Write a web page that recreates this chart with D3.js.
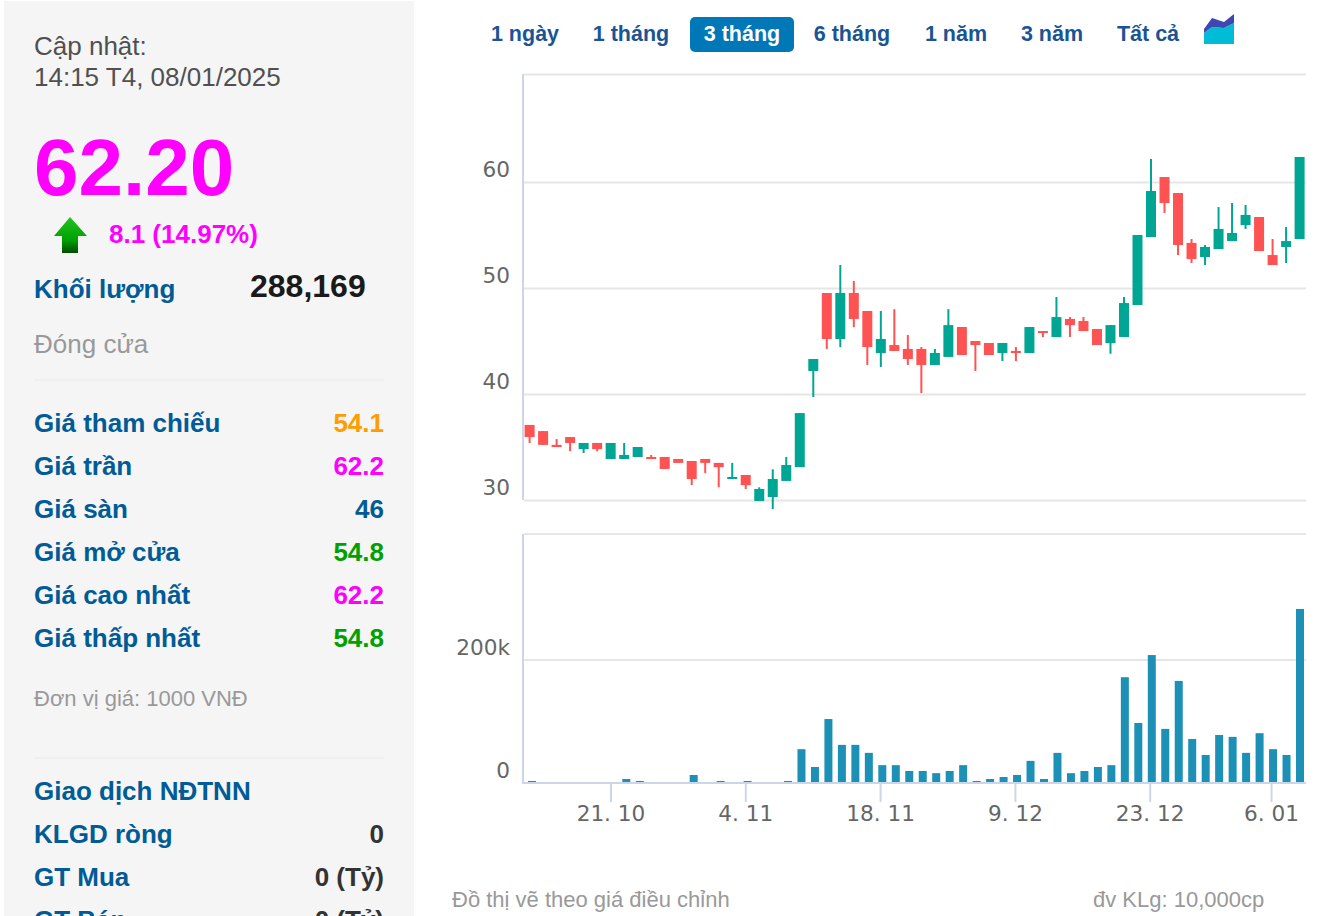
<!DOCTYPE html>
<html>
<head>
<meta charset="utf-8">
<script src="https://cdn.jsdelivr.net/npm/d3@7"></script>
<style>
  html, body { margin: 0; padding: 0; background: #fff; overflow: hidden; }
  svg { display: block; }
  text { font-family: "Liberation Sans", Arial, sans-serif; }
  .axis-label text { font-family: "DejaVu Sans", sans-serif; font-size: 21.6px; fill: #666; }
</style>
</head>
<body>
<div id="chart"></div>
<script>
// one entry per session, oldest first
const opens = [37.08, 36.5, 35.2, 35.94, 34.8, 35.38, 33.87, 33.87, 34.06, 34.06, 34.06, 33.87, 33.68, 33.87, 33.5, 31.98, 32.36, 29.9, 30.28, 31.8, 33.1, 42.17,
  49.53, 45.19, 49.53, 47.83, 43.87, 44.62, 44.25, 44.25, 42.74, 43.5, 46.32, 45, 44.81, 43.87, 44.06, 43.87, 45.94, 45.38,
  47.08, 46.89, 46.13, 44.8, 45.38, 48.4, 54.81, 60.47, 58.96, 54.25, 52.92, 53.68, 54.43, 55.94, 56.7, 53.11, 53.87, 54.62];
const closes = [35.94, 35.2, 35.0, 35.38, 35.38, 34.8, 35.38, 34.25, 35.0, 33.87, 32.93, 33.5, 31.98, 33.5, 33.1, 32.17, 31.4, 31.04, 31.98, 33.3, 38.2, 43.3,
  45.19, 49.53, 47.08, 44.43, 45.19, 44.06, 43.3, 42.74, 43.87, 46.5, 43.68, 44.62, 43.68, 44.81, 43.87, 46.32, 45.75, 47.26,
  46.5, 45.94, 44.62, 46.5, 48.58, 55, 59.15, 58.02, 54.06, 52.74, 53.87, 55.57, 55.19, 56.89, 53.49, 52.17, 54.43, 62.36];
const highs = [37.08, 36.5, 35.75, 35.94, 35.38, 35.38, 35.38, 35.38, 35.0, 34.25, 34.06, 33.87, 33.68, 33.87, 33.5, 33.5, 32.36, 31.2, 32.9, 34.06, 38.2, 43.3,
  49.53, 52.17, 50.66, 47.83, 47.83, 48, 45.57, 44.43, 44.25, 48, 46.32, 45, 44.81, 44.81, 44.43, 46.32, 45.94, 49.15,
  47.26, 47.26, 46.13, 46.5, 49.15, 55, 62.17, 60.47, 58.96, 54.62, 54.06, 57.64, 58.02, 57.83, 56.7, 54.62, 55.75, 62.36];
const lows = [35.38, 35.2, 35.0, 34.6, 34.43, 34.6, 33.87, 33.87, 34.06, 33.87, 32.93, 33.5, 31.4, 32.55, 31.2, 31.98, 31.04, 29.9, 29.15, 31.8, 33.1, 39.72,
  44.25, 44.43, 46.3, 42.74, 42.55, 44.06, 42.74, 40.09, 42.74, 43.5, 43.68, 42.17, 43.68, 43.11, 43.11, 43.87, 45.38, 45.38,
  45.38, 45.94, 44.62, 43.8, 45.38, 48.4, 54.81, 57.08, 53.11, 52.36, 52.17, 53.68, 54.43, 55.57, 53.49, 52.17, 52.36, 54.62];
// thousand shares
const volumes = [3.3, 0, 0, 0, 0, 0, 0, 6.5, 3.3, 0, 0, 0, 13, 0, 3.3, 0, 3.3, 0, 0, 3.3, 55, 26,
  104, 62, 62, 49, 29, 29, 19.5, 19.5, 16, 19.5, 29, 3.3, 6.5, 9.8, 13, 36, 6.5, 49,
  16, 19.5, 26, 29, 172, 97.6, 208, 88, 166, 71.5, 45.5, 78, 75, 49, 81, 55, 45.5, 283];

const priceTicks = [30, 40, 50, 60];
const volumeTicks = [0, 200];
const dateTickSessions = [6, 16, 26, 36, 46, 55];
const dateTickLabels = ['21. 10', '4. 11', '18. 11', '9. 12', '23. 12', '6. 01'];
const rangeButtons = ['1 ngày', '1 tháng', '3 tháng', '6 tháng', '1 năm', '3 năm', 'Tất cả'];
const activeRange = '3 tháng';

const priceRows = [['Giá tham chiếu', '54.1', '#ff9c00'], ['Giá trần', '62.2', '#ff00ff'], ['Giá sàn', '46', '#005b96'],
  ['Giá mở cửa', '54.8', '#00a000'], ['Giá cao nhất', '62.2', '#ff00ff'], ['Giá thấp nhất', '54.8', '#00a000']];
const foreignRows = [['Giao dịch NĐTNN', ''], ['KLGD ròng', '0'], ['GT Mua', '0 (Tỷ)'], ['GT Bán', '0 (Tỷ)']];

const width = 1330, height = 916;
const plotLeft = 524, plotRight = 1306;
const upColour = '#00a693', downColour = '#ff5252', volumeColour = '#1c90b5';
const gridColour = '#e6e6e6', axisColour = '#ccd6eb';
const navy = '#005b96';

const svg = d3.select('#chart').append('svg').attr('width', width).attr('height', height);

const sessions = d3.range(opens.length);
const x = d3.scalePoint().domain(sessions).range([529.6, 1299.6]);
const xVolume = d3.scalePoint().domain(sessions).range([532, 1300]);
const xTicks = d3.scalePoint().domain(sessions).range([529.6, 1298]);
const y = d3.scaleLinear().domain([30, 70.19]).range([500, 74]);
const yVolume = d3.scaleLinear().domain([0, 200]).range([783, 660]);

// ---- left panel
svg.append('rect').attr('x', 4).attr('y', 1).attr('width', 410).attr('height', height).attr('fill', '#f5f5f5');

const label = (txt, px, py, size, colour, opts = {}) =>
  svg.append('text').attr('x', px).attr('y', py).text(txt)
    .attr('font-size', size).attr('fill', colour)
    .attr('font-weight', opts.bold ? 700 : 400)
    .attr('text-anchor', opts.anchor || 'start');

label('Cập nhật:', 34, 55, 26, '#505050');
label('14:15 T4, 08/01/2025', 34, 86, 26, '#505050');
label('62.20', 34, 195, 80, '#ff00ff', { bold: true });
label('8.1 (14.97%)', 109, 243, 26, '#ff00ff', { bold: true });
label('Khối lượng', 34, 298, 26, navy, { bold: true });
label('288,169', 250, 297, 32, '#1a1a1a', { bold: true });
label('Đóng cửa', 34, 353, 26, '#999');
label('Đơn vị giá: 1000 VNĐ', 34, 706, 22, '#999');

const arrowGrad = svg.append('defs').append('linearGradient').attr('id', 'arrowGrad')
  .attr('x1', 0).attr('y1', 0).attr('x2', 0).attr('y2', 1);
arrowGrad.append('stop').attr('offset', '0%').attr('stop-color', '#22c322');
arrowGrad.append('stop').attr('offset', '65%').attr('stop-color', '#00a000');
arrowGrad.append('stop').attr('offset', '100%').attr('stop-color', '#004d00');
svg.append('path').attr('d', 'M70,217 L87,236 L78,236 L78,253 L62,253 L62,236 L54,236 Z').attr('fill', 'url(#arrowGrad)');

[380, 758].forEach(ly => svg.append('line').attr('x1', 34).attr('x2', 384).attr('y1', ly).attr('y2', ly)
  .attr('stroke', '#ececec').attr('stroke-width', 1.5));

priceRows.forEach((row, i) => {
  label(row[0], 34, 432 + i * 43, 26, navy, { bold: true });
  label(row[1], 384, 432 + i * 43, 26, row[2], { bold: true, anchor: 'end' });
});
foreignRows.forEach((row, i) => {
  label(row[0], 34, 800 + i * 43, 26, navy, { bold: true });
  label(row[1], 384, 800 + i * 43, 26, '#333', { bold: true, anchor: 'end' });
});

// ---- range buttons
const buttonCentres = [525, 631, 742, 852, 956, 1052, 1148];
svg.append('rect').attr('x', 690).attr('y', 17).attr('width', 104).attr('height', 35).attr('rx', 5).attr('fill', '#0078b8');
rangeButtons.forEach((b, i) => {
  label(b, buttonCentres[i], 41, 21.5, b === activeRange ? '#fff' : '#1b5493', { bold: true, anchor: 'middle' });
});
svg.append('path').attr('d', 'M1204,44 L1204,33 L1212,27 L1224,28 L1234,23 L1234,44 Z').attr('fill', '#00bcd4');
svg.append('path').attr('d', 'M1204,33 L1204,29 L1212,18 L1224,22 L1234,14 L1234,23 L1224,28 L1212,27 Z').attr('fill', '#3f48b0');

// ---- price panel
const priceAxis = d3.axisLeft(y).tickValues(priceTicks).tickSize(0).tickPadding(14);
const gPrice = svg.append('g').attr('class', 'axis-label').attr('transform', `translate(${plotLeft},0)`).call(priceAxis);
gPrice.select('.domain').remove();
gPrice.selectAll('text').attr('dy', '0.32em').attr('dx', 0).attr('transform', 'translate(0,-12)').style('text-anchor', 'end');

const gridlines = d3.axisLeft(y).tickValues([...priceTicks, y.domain()[1]]).tickSize(plotLeft - plotRight).tickFormat('');
const gGrid = svg.append('g').attr('transform', `translate(${plotLeft},0)`).call(gridlines);
gGrid.select('.domain').remove();
gGrid.selectAll('line').attr('stroke', gridColour).attr('stroke-width', 2);
svg.append('line').attr('x1', plotLeft - 1).attr('x2', plotLeft - 1).attr('y1', y.range()[1]).attr('y2', y.range()[0])
  .attr('stroke', axisColour).attr('stroke-width', 2);

const candles = svg.append('g').selectAll('g').data(sessions).join('g');
const colourOf = i => (closes[i] >= opens[i] ? upColour : downColour);
candles.append('line')
  .attr('x1', i => x(i)).attr('x2', i => x(i))
  .attr('y1', i => y(highs[i])).attr('y2', i => y(lows[i]))
  .attr('stroke', colourOf).attr('stroke-width', 2);
candles.append('rect')
  .attr('x', i => x(i) - 5).attr('width', 10)
  .attr('y', i => y(Math.max(opens[i], closes[i])))
  .attr('height', i => Math.abs(y(opens[i]) - y(closes[i])))
  .attr('fill', colourOf);

// ---- volume panel
const volumeAxis = d3.axisLeft(yVolume).tickValues(volumeTicks).tickSize(0).tickPadding(14)
  .tickFormat(d => (d ? d + 'k' : '0'));
const gVolume = svg.append('g').attr('class', 'axis-label').attr('transform', `translate(${plotLeft},0)`).call(volumeAxis);
gVolume.select('.domain').remove();
gVolume.selectAll('text').attr('transform', 'translate(0,-12)').style('text-anchor', 'end');

svg.append('line').attr('x1', plotLeft).attr('x2', plotRight).attr('y1', 534).attr('y2', 534)
  .attr('stroke', gridColour).attr('stroke-width', 2);
svg.append('line').attr('x1', plotLeft).attr('x2', plotRight).attr('y1', yVolume(200)).attr('y2', yVolume(200))
  .attr('stroke', gridColour).attr('stroke-width', 2);
svg.append('line').attr('x1', plotLeft - 1).attr('x2', plotLeft - 1).attr('y1', 534).attr('y2', 784)
  .attr('stroke', axisColour).attr('stroke-width', 2);

svg.append('g').selectAll('rect').data(sessions.filter(i => volumes[i] > 0)).join('rect')
  .attr('x', i => xVolume(i) - 4).attr('width', 8)
  .attr('y', i => yVolume(volumes[i]))
  .attr('height', i => yVolume(0) - yVolume(volumes[i]))
  .attr('fill', volumeColour);

// ---- date axis
const dateAxis = d3.axisBottom(xTicks).tickValues(dateTickSessions).tickSize(19).tickPadding(4)
  .tickFormat(d => dateTickLabels[dateTickSessions.indexOf(d)]);
const gDate = svg.append('g').attr('class', 'axis-label').attr('transform', `translate(0,${yVolume(0)})`).call(dateAxis);
gDate.select('.domain').remove();
gDate.selectAll('line').attr('stroke', axisColour).attr('stroke-width', 2);
svg.append('line').attr('x1', plotLeft).attr('x2', plotRight).attr('y1', yVolume(0)).attr('y2', yVolume(0))
  .attr('stroke', axisColour).attr('stroke-width', 2);

// ---- footer
label('Đồ thị vẽ theo giá điều chỉnh', 452, 907, 22, '#999');
label('đv KLg: 10,000cp', 1093, 907, 22, '#999');
</script>
</body>
</html>
